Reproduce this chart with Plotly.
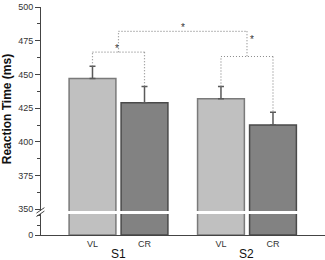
import plotly.graph_objects as go

groups = ["S1", "S2"]
conditions = ["VL", "CR"]
means = {"S1": [447, 429], "S2": [432, 412.5]}
errors = {"S1": [9, 12], "S2": [9, 9.5]}
y_ticks = [350, 375, 400, 425, 450, 475, 500]

fill_colors = {"VL": "#c0c0c0", "CR": "#828282"}
edge_colors = {"VL": "#7a7a7a", "CR": "#4a4a4a"}

group_gap = 2.47
pos = {}
for gi, g in enumerate(groups):
    for ci, c in enumerate(conditions):
        pos[(g, c)] = gi * group_gap + ci

fig = go.Figure()
for c_i, c in enumerate(conditions):
    xs = [pos[(g, c)] for g in groups]
    ys = [means[g][c_i] for g in groups]
    es = [errors[g][c_i] for g in groups]
    for ax_x, ax_y, show_err in (("x", "y", False), ("x2", "y2", True)):
        fig.add_trace(go.Bar(
            x=xs, y=ys, width=0.9, xaxis=ax_x, yaxis=ax_y,
            marker=dict(color=fill_colors[c], line=dict(color=edge_colors[c], width=1.5)),
            error_y=dict(type="data", symmetric=False, array=es, arrayminus=[0] * len(es),
                         color="#5a5a5a", thickness=1.5, width=3, visible=show_err),
            showlegend=False, hoverinfo="skip",
        ))

xr = [-0.99, 4.47]
axis_color = "#444444"
tick_font = dict(family="Liberation Sans, Arial", size=9, color="#333333")

fig.update_layout(
    width=325, height=260,
    margin=dict(l=41, r=0, t=7, b=25),
    plot_bgcolor="white", paper_bgcolor="white",
    barmode="overlay",
    xaxis=dict(domain=[0, 1], anchor="y", range=xr, showline=True, linecolor=axis_color,
               linewidth=1, tickvals=[pos[(g, c)] for g in groups for c in conditions],
               ticktext=[c for g in groups for c in conditions], ticks="",
               tickfont=tick_font, showgrid=False, zeroline=False),
    xaxis2=dict(domain=[0, 1], anchor="y2", range=xr, visible=False, matches="x"),
    yaxis=dict(domain=[0, 0.092], range=[0, 22], tickvals=[0], ticks="outside", ticklen=5,
               tickcolor=axis_color, showline=True, linecolor=axis_color, linewidth=1,
               minor=dict(dtick=10, ticklen=3, tickcolor=axis_color, ticks="outside"),
               tickfont=tick_font, showgrid=False, zeroline=False),
    yaxis2=dict(domain=[0.105, 1], range=[348.7, 500], tickvals=y_ticks, ticks="outside",
                ticklen=5, tickcolor=axis_color, showline=True, linecolor=axis_color, linewidth=1,
                minor=dict(dtick=12.5, ticklen=3, tickcolor=axis_color, ticks="outside"),
                tickfont=tick_font, showgrid=False, zeroline=False, anchor="x2",
                title=dict(text="<b>Reaction Time (ms)</b>", standoff=6,
                           font=dict(family="Liberation Sans, Arial", size=12, color="#111111"))),
)

# group labels
for g in groups:
    cx = sum(pos[(g, c)] for c in conditions) / len(conditions)
    fig.add_annotation(x=cx, y=0, xref="x", yref="paper", text=g, showarrow=False,
                       yshift=-11, yanchor="top", borderpad=0,
                       font=dict(family="Liberation Sans, Arial", size=12, color="#111111"))

# significance brackets
dot = dict(color="#8c8c8c", width=1.2, dash="1px,2px")
def seg(x0, y0, x1, y1):
    fig.add_shape(type="line", x0=x0, y0=y0, x1=x1, y1=y1, xref="x2", yref="y2", line=dot)

level = {"S1": 466.5, "S2": 463.3}
top_level = 482
centers = {}
for g in groups:
    a, b = pos[(g, "VL")], pos[(g, "CR")]
    ta = means[g][0] + errors[g][0]
    tb = means[g][1] + errors[g][1]
    seg(a, ta, a, level[g]); seg(a, level[g], b, level[g]); seg(b, level[g], b, tb)
    centers[g] = (a + b) / 2
seg(centers["S1"], level["S1"], centers["S1"], top_level)
seg(centers["S1"], top_level, centers["S2"], top_level)
seg(centers["S2"], top_level, centers["S2"], level["S2"])

star_font = dict(family="Liberation Sans, Arial", size=10, color="#333333")
fig.add_annotation(x=centers["S1"] - 0.03, y=level["S1"], xref="x2", yref="y2", text="*",
                   showarrow=False, yanchor="bottom", yshift=-4, font=star_font)
fig.add_annotation(x=(centers["S1"] + centers["S2"]) / 2, y=top_level, xref="x2", yref="y2",
                   text="*", showarrow=False, yanchor="bottom", yshift=-4, font=star_font)
fig.add_annotation(x=centers["S2"] + 0.09, y=top_level - 6, xref="x2", yref="y2", text="*",
                   showarrow=False, font=star_font)

# axis break marks
for yy in (0.093, 0.108):
    fig.add_shape(type="line", xref="paper", yref="paper", x0=-0.016, x1=0.012,
                  y0=yy - 0.012, y1=yy + 0.012, line=dict(color=axis_color, width=1))

fig.write_html("out.html")
